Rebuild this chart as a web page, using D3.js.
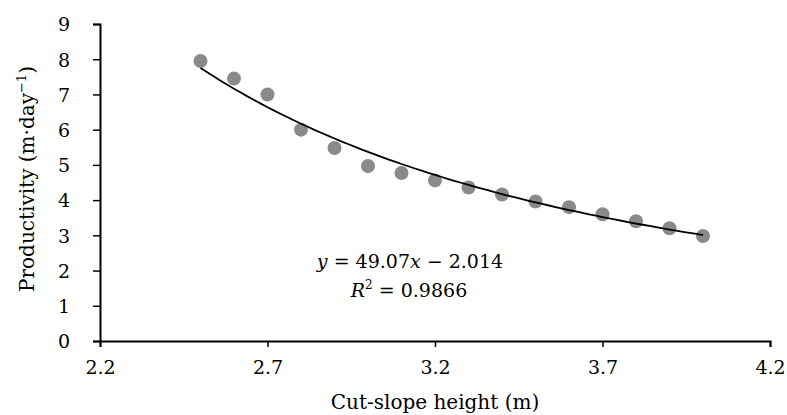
<!DOCTYPE html>
<html>
<head>
<meta charset="utf-8">
<script src="https://cdn.jsdelivr.net/npm/d3@7"></script>
<style>
  body { margin: 0; background: #fff; }
  text { font-family: "DejaVu Serif", serif; fill: #000; }
</style>
</head>
<body>
<svg width="787" height="415"></svg>
<script>
// cut-slope height (m)
const heights = [2.5, 2.6, 2.7, 2.8, 2.9, 3.0, 3.1, 3.2, 3.3, 3.4, 3.5, 3.6, 3.7, 3.8, 3.9, 4.0];
// productivity (m/day)
const productivity = [7.95, 7.45, 7.0, 6.0, 5.48, 4.97, 4.77, 4.56, 4.36, 4.16, 3.96, 3.8, 3.6, 3.4, 3.2, 2.98];
// power trendline y = a * x^b (from the label)
const fitA = 49.07;
const fitB = -2.014;
const xTicks = [2.2, 2.7, 3.2, 3.7, 4.2];
const yTicks = [0, 1, 2, 3, 4, 5, 6, 7, 8, 9];

const svg = d3.select("svg");

const x = d3.scaleLinear().domain([2.2, 4.2]).range([100, 770]);
const y = d3.scaleLinear().domain([0, 9]).range([341, 24]);

// x axis
const xAxis = svg.append("g")
  .attr("transform", "translate(0,341)")
  .call(d3.axisBottom(x).tickValues(xTicks).tickSize(6).tickPadding(10).tickFormat(d3.format(".1f")));

// y axis
const yAxis = svg.append("g")
  .attr("transform", "translate(100,0)")
  .call(d3.axisLeft(y).tickValues(yTicks).tickSize(7).tickPadding(23));

[xAxis, yAxis].forEach((g) => {
  g.attr("font-family", "DejaVu Serif, serif");
  g.select(".domain").attr("stroke", "#000").attr("stroke-width", 2);
  g.selectAll(".tick line").attr("stroke", "#000").attr("stroke-width", 1.5);
  g.selectAll(".tick text")
    .attr("font-size", 19)
    .attr("fill", "#000");
});
xAxis.selectAll(".tick text").attr("dy", "0.9em");
yAxis.selectAll(".tick text").attr("dy", "0.36em");

// points
svg.append("g")
  .selectAll("circle")
  .data(heights)
  .enter()
  .append("circle")
  .attr("cx", (d) => x(d))
  .attr("cy", (d, i) => y(productivity[i]))
  .attr("r", 7)
  .attr("fill", "#8a8a8a");

// trendline
const fitX = d3.range(heights[0], heights[heights.length - 1] + 0.0001, 0.02);
const line = d3.line()
  .x((d) => x(d))
  .y((d) => y(fitA * Math.pow(d, fitB)));

svg.append("path")
  .datum(fitX)
  .attr("d", line)
  .attr("fill", "none")
  .attr("stroke", "#000")
  .attr("stroke-width", 1.8);

// equation label
const eq = svg.append("text")
  .attr("x", 410)
  .attr("y", 268)
  .attr("text-anchor", "middle")
  .attr("font-size", 19);
eq.append("tspan").attr("font-style", "italic").text("y");
eq.append("tspan").text(" = 49.07");
eq.append("tspan").attr("font-style", "italic").text("x");
eq.append("tspan").text(" \u2212 2.014");

const r2 = svg.append("text")
  .attr("x", 409)
  .attr("y", 297)
  .attr("text-anchor", "middle")
  .attr("font-size", 19);
r2.append("tspan").attr("font-style", "italic").text("R");
r2.append("tspan").attr("font-size", 12).attr("dy", -8).text("2");
r2.append("tspan").attr("dy", 8).text(" = 0.9866");

// axis titles
svg.append("text")
  .attr("x", 435)
  .attr("y", 409)
  .attr("text-anchor", "middle")
  .attr("font-size", 20)
  .text("Cut-slope height (m)");

const yt = svg.append("text")
  .attr("transform", "translate(34,179) rotate(-90)")
  .attr("text-anchor", "middle")
  .attr("font-size", 20);
yt.append("tspan").text("Productivity (m\u00b7day");
yt.append("tspan").attr("font-size", 13).attr("dy", -8).text("\u22121");
yt.append("tspan").attr("dy", 8).text(")");
</script>
</body>
</html>
